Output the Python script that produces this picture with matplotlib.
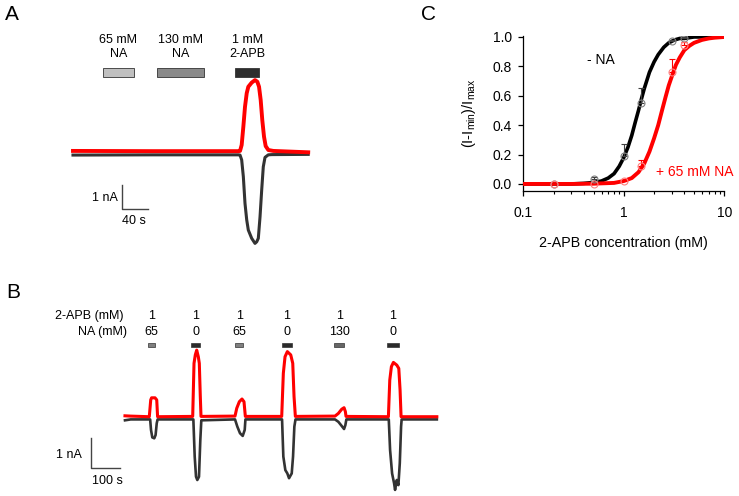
import matplotlib
matplotlib.use("Agg")
import matplotlib.pyplot as plt
from matplotlib.patches import Rectangle

plt.rcParams['font.family'] = ['Liberation Sans', 'DejaVu Sans']

# ---- Panel A: single recording, red vs dark trace (time in s, current in nA) ----
a_t_red = [0, 120, 250, 252.1, 254.6, 257.1, 259.6, 262.2, 264.6, 269.7, 274.7,
           278.2, 280.8, 283.3, 285.7, 288.3, 290.8, 294.8, 302.3, 355]
a_i_red = [0.09, 0.08, 0.08, 0.09, 0.35, 1.14, 2.01, 2.60, 2.88, 3.06, 3.17,
           3.10, 2.88, 2.30, 1.43, 0.71, 0.30, 0.13, 0.09, 0.03]
a_t_blk = [0, 120, 250, 252.1, 254.6, 257.1, 259.6, 262.2, 264.6, 269.7, 274.7,
           277.3, 279.7, 282.3, 284.8, 287.2, 289.8, 294.8, 300, 355]
a_i_blk = [-0.09, -0.08, -0.08, -0.09, -0.30, -1.03, -2.19, -2.91, -3.35, -3.71, -3.93,
           -3.86, -3.71, -2.77, -1.61, -0.60, -0.19, -0.08, -0.07, -0.06]
a_bar_labels = ["65 mM\nNA", "130 mM\nNA", "1 mM\n2-APB"]
a_bar_start = [44.8, 127.2, 245.0]
a_bar_end = [92.5, 197.7, 281.2]
a_bar_colors = ["#c0c0c0", "#8a8a8a", "#2e2e2e"]

# ---- Panel B: repeated applications ----
b_t_red = [0, 20, 85, 90, 93, 105, 111, 114,
           236.7, 241.3, 245.8, 250.7, 256.3, 259.8, 263.3, 265.7,
           384.6, 390.6, 399.7, 409, 416, 420.7,
           547.8, 553.5, 559.4, 567.5, 579.4, 586.4, 590.9, 595.5,
           734, 745.8, 757.6, 765.7, 770.3, 772.6,
           920.7, 925.5, 931.2, 938.2, 950, 957, 961.5, 965, 1090]
b_i_red = [0.03, 0.02, 0.0, 0.56, 0.63, 0.63, 0.56, 0.0,
           0.01, 1.78, 2.06, 2.22, 2.0, 1.78, 0.67, 0.01,
           0.02, 0.28, 0.5, 0.59, 0.5, 0.01,
           0.01, 1.45, 2.0, 2.17, 2.06, 1.78, 0.67, 0.01,
           0.02, 0.11, 0.25, 0.3, 0.17, 0.01,
           0.0, 1.22, 1.67, 1.81, 1.72, 1.61, 0.89, 0.0, 0.0]
b_t_blk = [0, 20, 88, 91, 95.5, 102.4, 107, 111, 114,
           239, 243.7, 248.3, 252.8, 258.7, 263.3, 266.8,
           384.6, 392.7, 402, 411.5, 418.5, 421,
           549, 553.5, 560.5, 567.5, 573.4, 582.8, 587.4, 592, 596,
           734, 745.8, 757.6, 765.7, 770.3, 773.8,
           922, 926.6, 933.6, 940.6, 944, 950, 955.6, 960.5, 965, 967, 1090]
b_i_blk = [-0.12, -0.09, -0.09, -0.44, -0.69, -0.72, -0.61, -0.22, -0.09,
           -0.09, -1.33, -2.0, -2.11, -2.0, -0.78, -0.12,
           -0.09, -0.33, -0.55, -0.64, -0.44, -0.09,
           -0.09, -1.33, -1.78, -1.89, -2.05, -1.89, -1.33, -0.33, -0.09,
           -0.09, -0.17, -0.31, -0.41, -0.28, -0.09,
           -0.09, -1.11, -1.89, -2.22, -2.44, -2.11, -2.28, -1.55, -0.33, -0.09, -0.09]
b_apb = ["1", "1", "1", "1", "1", "1"]
b_na = ["65", "0", "65", "0", "130", "0"]
b_bar_start = [81.6, 231, 385, 548, 731, 915]
b_bar_end = [105, 262, 414, 583, 766, 958]
b_bar_colors = ["#808080", "#2b2b2b", "#808080", "#2b2b2b", "#666666", "#2b2b2b"]

# ---- Panel C: dose-response ----
c_conc_blk = [0.2, 0.5, 1.0, 1.5, 3.0, 4.0]
c_resp_blk = [0.0, 0.034, 0.19, 0.55, 0.97, 0.995]
c_err_blk = [0.0, 0.016, 0.08, 0.1, 0.01, 0.005]
c_conc_red = [0.2, 0.5, 1.0, 1.5, 3.0, 4.0]
c_resp_red = [0.0, 0.0, 0.02, 0.12, 0.76, 0.945]
c_err_red = [0.0, 0.0, 0.01, 0.04, 0.09, 0.02]
# fitted curves
fit_conc_blk = [0.1, 0.2, 0.3, 0.4, 0.5, 0.6, 0.7, 0.8, 0.9, 1.0, 1.1, 1.2, 1.3, 1.4,
                1.5, 1.6, 1.8, 2.0, 2.2, 2.5, 2.8, 3.2, 3.6, 4.0, 5.0, 6.0, 8.0, 10.0]
fit_resp_blk = [0.0, 0.0, 0.0, 0.004, 0.01, 0.02, 0.04, 0.07, 0.12, 0.18, 0.25, 0.33, 0.42, 0.5,
                0.58, 0.65, 0.76, 0.83, 0.88, 0.93, 0.96, 0.98, 0.99, 0.99, 1.0, 1.0, 1.0, 1.0]
fit_conc_red = [0.1, 0.3, 0.5, 0.8, 1.0, 1.2, 1.4, 1.6, 1.8, 2.0, 2.2, 2.4, 2.6, 2.8,
                3.0, 3.3, 3.6, 4.0, 4.5, 5.0, 6.0, 7.0, 8.0, 10.0]
fit_resp_red = [0.0, 0.0, 0.002, 0.007, 0.02, 0.04, 0.08, 0.14, 0.22, 0.31, 0.40, 0.5, 0.59, 0.67,
                0.73, 0.81, 0.86, 0.91, 0.94, 0.96, 0.98, 0.99, 0.995, 1.0]

RED = "#ff0000"
DARK = "#333333"
W, H = 739, 496
fig = plt.figure(figsize=(W / 100, H / 100), dpi=100)


def px_axes(left, top, right, bottom):
    return fig.add_axes([left / W, 1 - bottom / H, (right - left) / W, (bottom - top) / H])


# panel letters
fig.text(11.5 / W, 1 - 15 / H, "A", fontsize=15, ha="center", va="center")
fig.text(13 / W, 1 - 292 / H, "B", fontsize=15, ha="center", va="center")
fig.text(429 / W, 1 - 15 / H, "C", fontsize=15, ha="center", va="center")

# == Panel A == #
axA = px_axes(60, 25, 320, 255)
axA.set_xlim(-19.6, 372.8)
axA.set_ylim(-4.435, 5.565)
axA.axis("off")
axA.plot(a_t_blk, a_i_blk, color=DARK, lw=2.2, solid_joinstyle="round")
axA.plot(a_t_red, a_i_red, color=RED, lw=2.8, solid_joinstyle="round")
for lab, t0, t1, col in zip(a_bar_labels, a_bar_start, a_bar_end, a_bar_colors):
    axA.add_patch(Rectangle((t0, 3.32), t1 - t0, 0.36, facecolor=col,
                            edgecolor="#333333", lw=0.6))
    axA.text((t0 + t1) / 2, 4.6, lab, ha="center", va="center", fontsize=9,
             linespacing=1.25)
axA.plot([73.5, 73.5, 113.7], [-1.39, -2.43, -2.43], color="#444444", lw=1.0)
axA.text(67, -1.95, "1 nA", ha="right", va="center", fontsize=9)
axA.text(92, -2.96, "40 s", ha="center", va="center", fontsize=9)

# == Panel B == #
axB = px_axes(40, 295, 450, 496)
axB.set_xlim(-297, 1136)
axB.set_ylim(-2.643, 4.057)
axB.axis("off")
axB.plot(b_t_blk, b_i_blk, color=DARK, lw=1.9, solid_joinstyle="round")
axB.plot(b_t_red, b_i_red, color=RED, lw=2.2, solid_joinstyle="round")
axB.text(-6, 3.36, "2-APB (mM)", ha="right", va="center", fontsize=9)
axB.text(6, 2.81, "NA (mM)", ha="right", va="center", fontsize=9)
for a, n, t0, t1, col in zip(b_apb, b_na, b_bar_start, b_bar_end, b_bar_colors):
    mid = (t0 + t1) / 2
    axB.add_patch(Rectangle((t0, 2.31), t1 - t0, 0.14, facecolor=col,
                            edgecolor="#333333", lw=0.5))
    axB.text(mid, 3.36, a, ha="center", va="center", fontsize=9)
    axB.text(mid, 2.81, n, ha="center", va="center", fontsize=9)
axB.plot([-117.5, -117.5, -17.5], [-0.72, -1.72, -1.72], color="#444444", lw=1.0)
axB.text(-150, -1.28, "1 nA", ha="right", va="center", fontsize=9)
axB.text(-63, -2.13, "100 s", ha="center", va="center", fontsize=9)

# == Panel C == #
axC = px_axes(523.3, 35.5, 724.3, 191)
axC.set_xscale("log")
axC.set_xlim(0.1, 10)
axC.set_ylim(-0.048, 1.01)
axC.plot(fit_conc_blk, fit_resp_blk, color="black", lw=2.6, zorder=2)
axC.plot(fit_conc_red, fit_resp_red, color=RED, lw=2.8, zorder=3)
axC.errorbar(c_conc_blk, c_resp_blk, yerr=[[0] * len(c_err_blk), c_err_blk],
             fmt="o", mfc="none", mec="#808080", ms=5, mew=0.8,
             ecolor="#404040", elinewidth=0.8, capsize=2.5, capthick=0.8, zorder=4)
axC.errorbar(c_conc_red, c_resp_red, yerr=[[0] * len(c_err_red), c_err_red],
             fmt="o", mfc="none", mec="#ff8080", ms=5, mew=0.8,
             ecolor=RED, elinewidth=0.8, capsize=2.5, capthick=0.8, zorder=4)
axC.set_xticks([0.1, 1, 10])
axC.set_xticklabels(["0.1", "1", "10"])
axC.set_yticks([0, 0.2, 0.4, 0.6, 0.8, 1.0])
axC.set_yticklabels(["0.0", "0.2", "0.4", "0.6", "0.8", "1.0"])
for s in ["top", "right"]:
    axC.spines[s].set_visible(False)
for s in ["left", "bottom"]:
    axC.spines[s].set_linewidth(0.9)
axC.tick_params(which="major", direction="out", length=3.5, width=0.9,
                labelsize=10, pad=4.5)
axC.tick_params(axis="x", which="major", pad=7.5)
axC.tick_params(which="minor", direction="out", length=2, width=0.8)
axC.set_xlabel("2-APB concentration (mM)", fontsize=10.3, labelpad=11)
axC.set_ylabel(r"(I-I$_\mathregular{min}$)/I$_\mathregular{max}$", fontsize=10.5, labelpad=11)
axC.text(0.43, 0.84, "- NA", ha="left", va="center", fontsize=10)
axC.text(2.07, 0.084, "+ 65 mM NA", ha="left", va="center", fontsize=10, color=RED)

fig.savefig("out.png", dpi=100)
